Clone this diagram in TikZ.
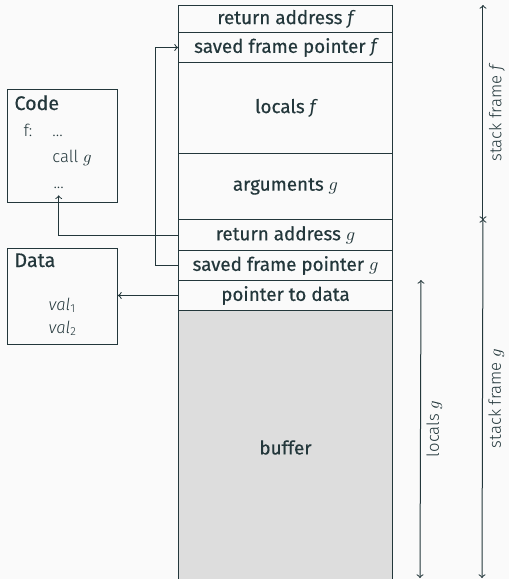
\documentclass[tikz,border=0pt]{standalone}
\usepackage{fontspec}
\setmainfont{Fira Sans}
\newfontfamily\lightfont{Fira Sans Light}
\newfontfamily\plainfont{Fira Sans}
\newfontfamily\medfont{Fira Sans}[FakeBold=0.45]
\newcommand{\fvar}{{\plainfont\itshape f}}
\definecolor{fg}{HTML}{23373B}
\definecolor{bgc}{HTML}{FAFAFA}
\definecolor{bufc}{HTML}{DDDDDD}
\begin{document}
\begin{tikzpicture}[x=0.6pt,y=-0.6pt, line width=0.6pt, color=fg, text=fg,
  cell/.style={draw, minimum width=214*0.6pt, inner sep=0pt, anchor=north west, font=\medfont\fontsize{11.3}{13}\selectfont},
  box/.style={draw, anchor=north west, inner sep=0pt, minimum width=110*0.6pt},
  ttl/.style={anchor=base west, inner sep=0pt, font=\medfont\fontsize{11.8}{13}\selectfont},
  txt/.style={anchor=base west, inner sep=0pt, font=\lightfont\fontsize{10}{12}\selectfont},
  lbl/.style={midway, below, rotate=90, font=\lightfont\fontsize{10}{12}\selectfont}]
\useasboundingbox (0,0) rectangle (509,579);
\fill[bgc] (0,0) rectangle (509,579);
\clip (0,0) rectangle (509,579);
% stack
\node[cell, minimum height=27*0.6pt] (raf) at (178,5) {return address \fvar};
\node[cell, minimum height=30*0.6pt] (sfpf) at (178,32) {saved frame pointer \fvar};
\node[cell, minimum height=91*0.6pt] (lf) at (178,62) {locals \fvar};
\node[cell, minimum height=66*0.6pt] (ag) at (178,153) {arguments $g$};
\node[cell, minimum height=31*0.6pt] (rag) at (178,219) {return address $g$};
\node[cell, minimum height=30*0.6pt] (sfpg) at (178,250) {saved frame pointer $g$};
\node[cell, minimum height=30*0.6pt] (ptd) at (178,280) {pointer to data};
\node[cell, fill=bufc, minimum height=274*0.6pt] (buf) at (178,310) {buffer};
% code box
\node[box, minimum height=113*0.6pt] (code) at (7,89) {};
\node[ttl] (codet) at (14,110) {Code};
\node[txt] (fl) at (23,136) {f:};
\node[txt] (d1) at (52,136) {...};
\node[txt] (call) at (52,162) {call $g$};
\node[txt] (d2) at (53,188) {...};
% data box
\node[box, minimum height=96*0.6pt] (data) at (7,248) {};
\node[ttl] (datat) at (14,267) {Data};
\node[txt] (v1) at (48,310) {\textit{val}\textsubscript{1}};
\node[txt] (v2) at (48,333) {\textit{val}\textsubscript{2}};
% pointers
\draw[->] (rag.west) -| ([yshift=-4pt]d2.south);
\draw[->] (sfpg.west) -- ++(-23,0) |- (sfpf.west);
\draw[->] (ptd.west) -- (data.east |- ptd.west);
% dimension arrows
\coordinate (fbot) at (482,578);
\coordinate (lbot) at (420,578);
\draw[<->] ([xshift=54pt]raf.north east) -- ([xshift=54pt]ag.south east) node[lbl] {stack frame \textit{f}};
\draw[<->] ([xshift=54pt]rag.north east) -- (fbot) node[lbl] {stack frame $g$};
\draw[<->] ([xshift=16.8pt]ptd.north east) -- (lbot) node[lbl] {locals $g$};
\end{tikzpicture}
\end{document}
